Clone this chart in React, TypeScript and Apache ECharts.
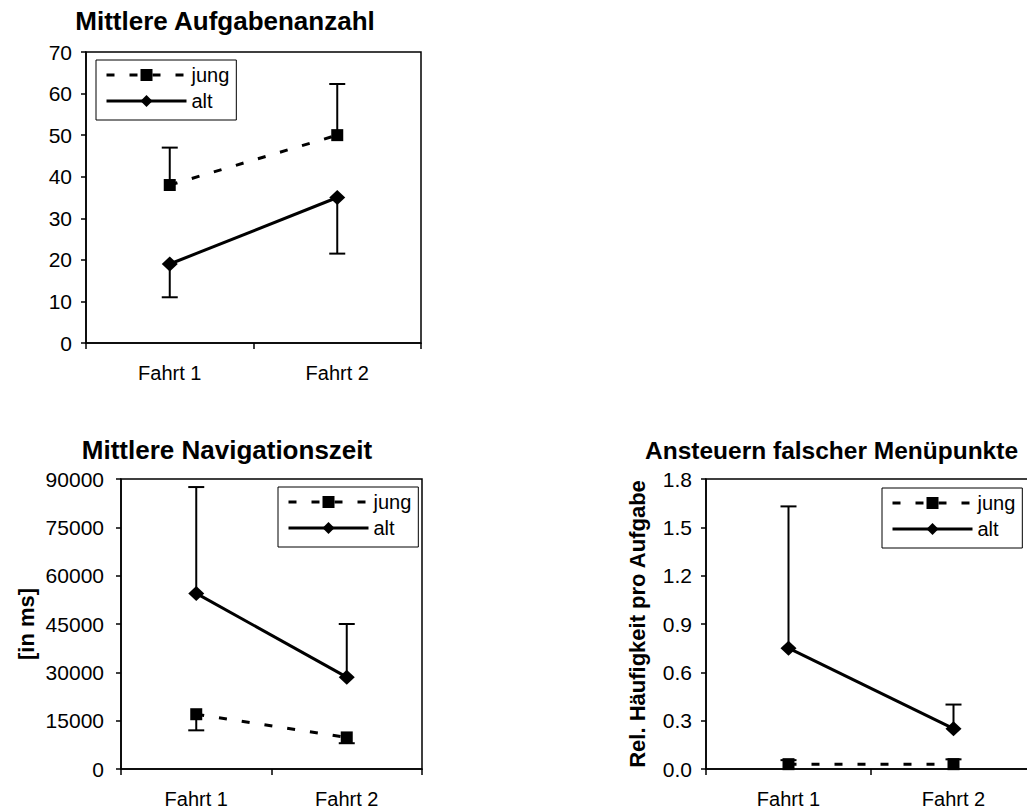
import React, { useEffect, useRef } from 'react';
import * as echarts from 'echarts';

// ---------- data ----------
const categories = ['Fahrt 1', 'Fahrt 2'];
const legendNames = ['jung', 'alt'];

const titles = ['Mittlere Aufgabenanzahl', 'Mittlere Navigationszeit', 'Ansteuern falscher Menüpunkte'];
const yNames = ['', '[in ms]', 'Rel. Häufigkeit pro Aufgabe'];

const yMins = [0, 0, 0];
const yMaxs = [70, 90000, 1.8];
const yIntervals = [10, 15000, 0.3];
const yDecimals = [0, 0, 1];

// Panel 1: Mittlere Aufgabenanzahl
const aufgabenJung = [38, 50];
const aufgabenJungErr = [47, 62.3];
const aufgabenAlt = [19, 35];
const aufgabenAltErr = [11, 21.5];

// Panel 2: Mittlere Navigationszeit [ms]
const navJung = [17000, 9800];
const navJungErr = [12000, 8000];
const navAlt = [54500, 28500];
const navAltErr = [87500, 45000];

// Panel 3: Ansteuern falscher Menüpunkte
const fehlerJung = [0.03, 0.03];
const fehlerJungErr = [0.055, 0.06];
const fehlerAlt = [0.75, 0.25];
const fehlerAltErr = [1.63, 0.4];

const panelJung = [aufgabenJung, navJung, fehlerJung];
const panelJungErr = [aufgabenJungErr, navJungErr, fehlerJungErr];
const panelAlt = [aufgabenAlt, navAlt, fehlerAlt];
const panelAltErr = [aufgabenAltErr, navAltErr, fehlerAltErr];

// ---------- layout ----------
const FONT = '"Liberation Sans", Arial, Helvetica, sans-serif';
const grids = [
  { left: 86, top: 52, width: 335, height: 291 },
  { left: 121, top: 479, width: 301, height: 291 },
  { left: 706, top: 479, width: 330, height: 291 },
];
const legendPos = [
  { left: 96, top: 60 },
  { left: 278, top: 487 },
  { left: 882, top: 488 },
];
const titlePos = [
  { x: 225, y: 21, align: 'center', size: 26 },
  { x: 227, y: 450, align: 'center', size: 26 },
  { x: 645, y: 450, align: 'left', size: 24.5 },
];
const yLabelMargins = [14, 17, 14];
const yNameGaps = [0, 84, 58];

function errorBarRender(params: any, api: any) {
  const x = api.value(0);
  const p1 = api.coord([x, api.value(1)]);
  const p2 = api.coord([x, api.value(2)]);
  const style = { stroke: '#000', lineWidth: 2 };
  return {
    type: 'group',
    children: [
      { type: 'line', shape: { x1: p1[0], y1: p1[1], x2: p2[0], y2: p2[1] }, style },
      { type: 'line', shape: { x1: p2[0] - 8, y1: p2[1], x2: p2[0] + 8, y2: p2[1] }, style },
    ],
  };
}

function buildOption() {
  const xAxis: any[] = [];
  const yAxis: any[] = [];
  const series: any[] = [];
  const legend: any[] = [];
  const graphic: any[] = [];

  for (let i = 0; i < 3; i++) {
    xAxis.push({
      type: 'category',
      gridIndex: i,
      data: categories,
      boundaryGap: true,
      axisLine: { lineStyle: { color: '#000', width: 1.5 } },
      axisTick: { show: true, length: 6, lineStyle: { color: '#000', width: 1.5 } },
      axisLabel: { color: '#000', fontSize: 20, margin: 20, fontFamily: FONT },
      splitLine: { show: false },
    });
    const dec = yDecimals[i];
    yAxis.push({
      type: 'value',
      gridIndex: i,
      min: yMins[i],
      max: yMaxs[i],
      interval: yIntervals[i],
      axisLine: { show: true, lineStyle: { color: '#000', width: 1.5 } },
      axisTick: { show: true, length: 5, lineStyle: { color: '#000', width: 1.5 } },
      axisLabel: {
        color: '#000',
        fontSize: 21,
        margin: yLabelMargins[i],
        fontFamily: FONT,
        formatter: (v: number) => v.toFixed(dec),
      },
      splitLine: { show: false },
      name: yNames[i],
      nameLocation: 'middle',
      nameGap: yNameGaps[i],
      nameRotate: 90,
      nameTextStyle: { fontSize: 22, fontWeight: 'bold', color: '#000', fontFamily: FONT },
    });

    series.push({
      name: 'Fehler jung ' + (i + 1),
      type: 'custom',
      xAxisIndex: i,
      yAxisIndex: i,
      z: 1,
      renderItem: errorBarRender,
      encode: { x: 0, y: [1, 2] },
      data: categories.map((_, k) => [k, panelJung[i][k], panelJungErr[i][k]]),
    });
    series.push({
      name: 'Fehler alt ' + (i + 1),
      type: 'custom',
      xAxisIndex: i,
      yAxisIndex: i,
      z: 1,
      renderItem: errorBarRender,
      encode: { x: 0, y: [1, 2] },
      data: categories.map((_, k) => [k, panelAlt[i][k], panelAltErr[i][k]]),
    });
    series.push({
      name: 'jung',
      type: 'line',
      xAxisIndex: i,
      yAxisIndex: i,
      z: 3,
      data: panelJung[i],
      symbol: 'rect',
      symbolSize: 12,
      itemStyle: { color: '#000' },
      lineStyle: { color: '#000', width: 3, type: [8, 15] },
    });
    series.push({
      name: 'alt',
      type: 'line',
      xAxisIndex: i,
      yAxisIndex: i,
      z: 3,
      data: panelAlt[i],
      symbol: 'diamond',
      symbolSize: [16, 15],
      itemStyle: { color: '#000' },
      lineStyle: { color: '#000', width: 3, type: 'solid' },
    });

    legend.push({
      left: legendPos[i].left,
      top: legendPos[i].top,
      orient: 'vertical',
      data: legendNames,
      selectedMode: false,
      borderColor: '#000',
      borderWidth: 1,
      padding: [5, 7, 9, 9],
      itemWidth: 80,
      itemHeight: 15,
      itemGap: 6,
      lineStyle: { width: 3 },
      textStyle: { fontSize: 20, lineHeight: 20, color: '#000', fontFamily: FONT },
    });

    graphic.push({
      type: 'text',
      x: titlePos[i].x,
      y: titlePos[i].y,
      style: {
        text: titles[i],
        textAlign: titlePos[i].align,
        textVerticalAlign: 'middle',
        fontSize: titlePos[i].size,
        fontWeight: 'bold',
        fontFamily: FONT,
        fill: '#000',
      },
    });
  }

  return {
    animation: false,
    backgroundColor: '#fff',
    textStyle: { fontFamily: FONT, color: '#000' },
    grid: grids.map((g) => ({ ...g, show: true, borderColor: '#000', borderWidth: 1.5, containLabel: false })),
    xAxis,
    yAxis,
    series,
    legend,
    graphic,
  };
}

export default function App() {
  const ref = useRef<HTMLDivElement>(null);
  useEffect(() => {
    if (!ref.current) return;
    const chart = echarts.init(ref.current, undefined, { renderer: 'svg' });
    chart.setOption(buildOption() as any);
    return () => chart.dispose();
  }, []);
  return (
    <div style={{ position: 'absolute', left: 0, top: 0, width: 1027, height: 809, overflow: 'hidden', background: '#fff' }}>
      <div ref={ref} style={{ width: 1050, height: 809 }} />
    </div>
  );
}
